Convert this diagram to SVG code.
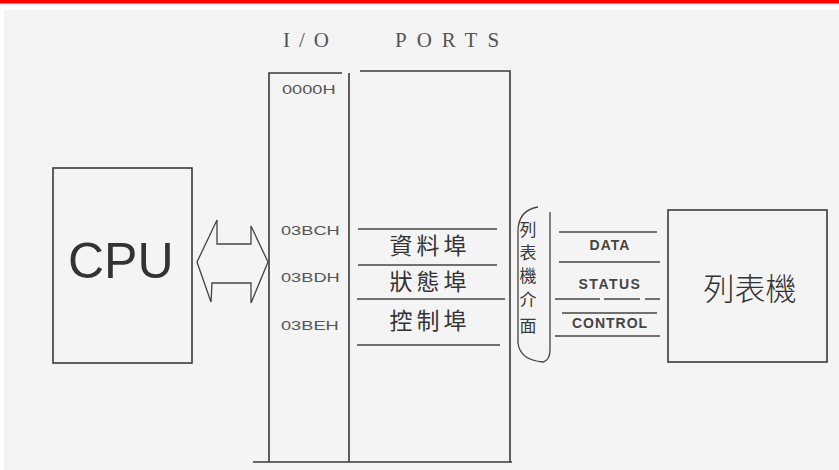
<svg xmlns="http://www.w3.org/2000/svg" width="839" height="470" viewBox="0 0 839 470">
<style>
.ln{stroke:#3a3a3a;stroke-width:1.6;fill:none}
.thin{stroke:#444;stroke-width:1.3;fill:none}
.addr{font-family:"Liberation Sans",Arial,sans-serif;font-size:13.5px;fill:#555}
.port{font-family:"Noto Sans CJK TC","Noto Sans CJK SC",sans-serif;font-size:23px;font-weight:400;fill:#333;text-anchor:middle}
.sig{font-family:"Liberation Sans",Arial,sans-serif;font-size:14px;font-weight:bold;fill:#444;text-anchor:middle}
.vt{font-family:"Noto Sans CJK TC","Noto Sans CJK SC",sans-serif;font-size:17px;font-weight:400;fill:#3a3a3a;text-anchor:middle}
</style>
<rect x="0" y="0" width="839" height="470" fill="#ffffff"/>
<rect x="0" y="0" width="839" height="3.5" fill="#ff0000"/>
<rect x="4" y="10" width="835" height="460" fill="#f4f4f4"/>

<g id="title">
<text x="283" y="47" font-family="'Liberation Serif','Times New Roman',serif" font-size="21" fill="#555" letter-spacing="9">I/O</text>
<text x="395" y="47" font-family="'Liberation Serif','Times New Roman',serif" font-size="21" fill="#555" letter-spacing="10">PORTS</text>
</g>

<g id="cpu">
<rect x="53" y="168" width="139" height="195" class="ln"/>
<text x="68" y="278" font-family="'Liberation Sans',Arial,sans-serif" font-size="50" fill="#333">CPU</text>
</g>

<g id="connectors">
<path class="thin" d="M197,262 L217,220 L217,244 L251,244 L251,226 L268,262 L251,303 L251,283 L212,283 L211,302 Z" stroke-linejoin="miter"/>
</g>

<g id="address-column">
<path class="ln" d="M269,462 L269,73 L342,73"/>
<line class="ln" x1="253" y1="462" x2="512" y2="462"/>
<text class="addr" transform="translate(282,94) scale(1.35,1)">0000H</text>
<text class="addr" transform="translate(281,235) scale(1.35,1)">03BCH</text>
<text class="addr" transform="translate(281,282) scale(1.35,1)">03BDH</text>
<text class="addr" transform="translate(281,330) scale(1.35,1)">03BEH</text>
</g>

<g id="ports">
<path class="ln" d="M349,462 L349,73 M360,71 L510,71 L510,462"/>
<line class="thin" x1="358" y1="229" x2="497" y2="229"/>
<line class="thin" x1="358" y1="265" x2="497" y2="265"/>
<line class="thin" x1="357" y1="299" x2="505" y2="299"/>
<line class="thin" x1="357" y1="345" x2="500" y2="345"/>
<text class="port" x="430" y="254" letter-spacing="4">資料埠</text>
<text class="port" x="430" y="290" letter-spacing="4">狀態埠</text>
<text class="port" x="430" y="329" letter-spacing="4">控制埠</text>
</g>

<g id="interface">
<path class="thin" d="M538,207 Q519,210 518,230 L518,343 Q520,360 543,362 Q550,360 550,350 L550,212"/>
<text class="vt" x="528" y="236">列</text>
<text class="vt" x="528" y="259">表</text>
<text class="vt" x="528" y="282">機</text>
<text class="vt" x="528" y="306">介</text>
<text class="vt" x="528" y="332">面</text>
</g>

<g id="signals">
<line class="thin" x1="559" y1="232" x2="657" y2="232"/>
<line class="thin" x1="559" y1="262" x2="660" y2="262"/>
<path class="thin" d="M555,299 L600,299 M604,299 L640,299 M645,299 L660,299"/>
<line class="thin" x1="562" y1="313" x2="657" y2="313"/>
<line class="thin" x1="555" y1="336" x2="660" y2="336"/>
<text class="sig" x="610" y="250" letter-spacing="1">DATA</text>
<text class="sig" x="610" y="289" letter-spacing="1.5">STATUS</text>
<text class="sig" x="610" y="328" letter-spacing="1">CONTROL</text>
</g>

<g id="printer">
<rect x="668" y="210" width="159" height="152" class="ln"/>
<text x="750" y="300" font-family="'Noto Sans CJK TC','Noto Sans CJK SC',sans-serif" font-size="31" font-weight="300" fill="#333" text-anchor="middle">列表機</text>
</g>
</svg>
